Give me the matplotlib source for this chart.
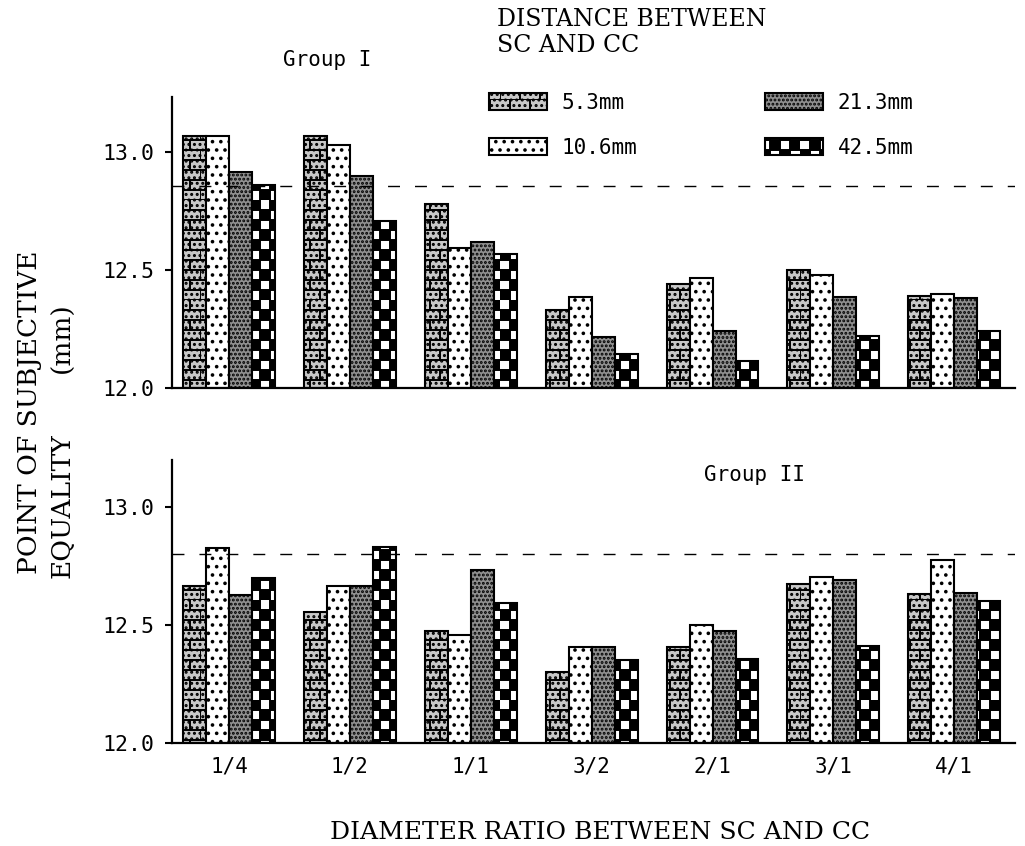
import numpy as np
import matplotlib
matplotlib.use('Agg')
import matplotlib.pyplot as plt
import matplotlib.patches as mpatches
from matplotlib import hatch as mhatch
from matplotlib.path import Path

ratios = ['1/4', '1/2', '1/1', '3/2', '2/1', '3/1', '4/1']
distances = ['5.3mm', '10.6mm', '21.3mm', '42.5mm']

# group I, one list per distance
g1_53 = [13.07, 13.07, 12.78, 12.33, 12.44, 12.50, 12.39]
g1_106 = [13.07, 13.03, 12.595, 12.385, 12.465, 12.48, 12.40]
g1_213 = [12.915, 12.90, 12.62, 12.215, 12.24, 12.385, 12.38]
g1_425 = [12.86, 12.71, 12.57, 12.145, 12.115, 12.22, 12.24]

# group II
g2_53 = [12.665, 12.555, 12.475, 12.30, 12.405, 12.675, 12.63]
g2_106 = [12.825, 12.665, 12.455, 12.405, 12.50, 12.705, 12.775]
g2_213 = [12.625, 12.665, 12.735, 12.405, 12.475, 12.69, 12.635]
g2_425 = [12.70, 12.83, 12.595, 12.35, 12.355, 12.41, 12.60]

ref_g1 = 12.855
ref_g2 = 12.80
BASE = 12.0


# brick hatch on '*' and checkerboard hatch on 'O'
class BrickHatch(mhatch.HatchPatternBase):
  rows = 10
  cols = 5

  def __init__(self, hatch, density):
    n = self.rows * (1 + self.cols) if '*' in hatch else 0
    self.num_vertices = 2 * n

  def set_vertices_and_codes(self, vertices, codes):
    h = 1.0 / self.rows
    w = 1.0 / self.cols
    segs = []
    for r in range(self.rows):
      y = r * h
      segs.append([(0, y), (1, y)])
      shift = 0.5 * w * (r % 2)
      for c in range(self.cols):
        x = c * w + shift
        segs.append([(x, y), (x, y + h)])
    vertices[:] = np.array(segs).reshape(-1, 2)
    codes[0::2] = Path.MOVETO
    codes[1::2] = Path.LINETO


class CheckerHatch(mhatch.HatchPatternBase):
  cells = 10

  def __init__(self, hatch, density):
    n = self.cells * self.cells // 2 if 'O' in hatch else 0
    self.num_vertices = 5 * n

  def set_vertices_and_codes(self, vertices, codes):
    s = 1.0 / self.cells
    k = 0
    for i in range(self.cells):
      for j in range(self.cells):
        if (i + j) % 2:
          continue
        x, y = i * s, j * s
        vertices[k:k+5] = [(x, y), (x+s, y), (x+s, y+s), (x, y+s), (x, y)]
        codes[k:k+5] = [Path.MOVETO, Path.LINETO, Path.LINETO, Path.LINETO,
                        Path.CLOSEPOLY]
        k += 5


mhatch._hatch_types = [t for t in mhatch._hatch_types
                       if t not in (mhatch.Stars, mhatch.LargeCircles)]
mhatch._hatch_types += [BrickHatch, CheckerHatch]

plt.rcParams['hatch.linewidth'] = 1.4

styles = [
  dict(facecolor='#c8c8c8', hatch='*...'),
  dict(facecolor='white', hatch='..'),
  dict(facecolor='#909090', hatch='....'),
  dict(facecolor='white', hatch='O'),
]

serif = 'DejaVu Serif'
mono = 'DejaVu Sans Mono'


def draw_panel(ax, series, ref, top):
  x = np.arange(len(ratios))
  w = 0.19
  for k, vals in enumerate(series):
    ax.bar(x + (k - 1.5) * w, np.array(vals) - BASE, bottom=BASE, width=w,
           edgecolor='black', linewidth=1.5, **styles[k])
  ax.axhline(ref, color='black', linewidth=1.0, dashes=(8.6, 10.8))
  ax.set_xlim(-0.47, 6.5)
  ax.set_ylim(BASE, top)
  ax.set_yticks([12.0, 12.5, 13.0])
  ax.set_yticklabels(['12.0', '12.5', '13.0'], fontfamily=mono, fontsize=15.5)
  ax.tick_params(axis='y', length=5, width=1.5, pad=8)
  for s in ['top', 'right']:
    ax.spines[s].set_visible(False)
  for s in ['left', 'bottom']:
    ax.spines[s].set_linewidth(1.6)
  ax.set_xticks(x)


fig = plt.figure(figsize=(10.25, 8.46), dpi=100)
ax1 = fig.add_axes([0.168, 0.5414, 0.822, 0.344])
ax2 = fig.add_axes([0.168, 0.1223, 0.822, 0.3337])

draw_panel(ax1, [g1_53, g1_106, g1_213, g1_425], ref_g1, 13.235)
draw_panel(ax2, [g2_53, g2_106, g2_213, g2_425], ref_g2, 13.20)

ax1.tick_params(axis='x', length=0, labelbottom=False)
ax2.set_xticklabels(ratios, fontfamily=mono, fontsize=15)
ax2.tick_params(axis='x', length=0, pad=10)

fig.text(327/1025, 1 - 60/846, 'Group I', ha='center', va='center',
         fontsize=15, fontfamily=mono)
fig.text(755/1025, 1 - 475/846, 'Group II', ha='center', va='center',
         fontsize=15, fontfamily=mono)

fig.text(600/1025, 1 - 832/846, 'DIAMETER RATIO BETWEEN SC AND CC',
         ha='center', va='center', fontsize=18, fontfamily=serif)
fig.text(30/1025, 1 - 412/846, 'POINT OF SUBJECTIVE', rotation=90,
         ha='center', va='center', fontsize=19, fontfamily=serif)
fig.text(62/1025, 1 - 578/846, 'EQUALITY', rotation=90,
         ha='center', va='bottom', fontsize=19, fontfamily=serif)
fig.text(62/1025, 1 - 338/846, '(mm)', rotation=90,
         ha='center', va='center', fontsize=19, fontfamily=serif)

fig.text(497/1025, 1 - 8/846, 'DISTANCE BETWEEN\nSC AND CC', ha='left',
         va='top', fontsize=17, fontfamily=serif, linespacing=1.15)

handles = [mpatches.Patch(edgecolor='black', linewidth=1.5, label=d, **st)
           for d, st in zip(distances, styles)]
fig.legend(handles=handles, ncol=2, loc='upper left',
           bbox_to_anchor=(489/1025, 1 - 93/846), frameon=False,
           prop={'family': mono, 'size': 15}, handlelength=2.8,
           handleheight=0.85, handletextpad=0.7, columnspacing=6.1,
           labelspacing=1.2, borderpad=0, borderaxespad=0)

fig.savefig('out.png', dpi=100)
